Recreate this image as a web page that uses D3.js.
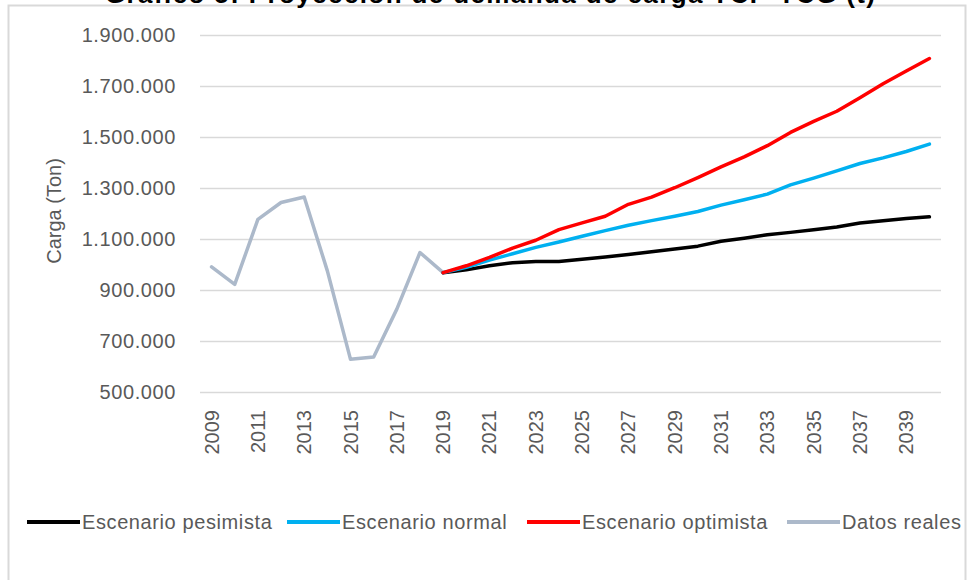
<!DOCTYPE html>
<html>
<head>
<meta charset="utf-8">
<script src="https://cdn.jsdelivr.net/npm/d3@7"></script>
<style>
  body { margin: 0; background: #fff; }
  svg { display: block; font-family: "Liberation Sans", Arial, sans-serif; }
</style>
</head>
<body>
<svg id="canvas" width="970" height="580"></svg>
<script>
const years = [2009, 2010, 2011, 2012, 2013, 2014, 2015, 2016, 2017, 2018, 2019,
  2020, 2021, 2022, 2023, 2024, 2025, 2026, 2027, 2028, 2029, 2030,
  2031, 2032, 2033, 2034, 2035, 2036, 2037, 2038, 2039, 2040];

const realYears = [2009, 2010, 2011, 2012, 2013, 2014, 2015, 2016, 2017, 2018, 2019];
const datosReales = [991000, 922000, 1177000, 1243000, 1265000, 975000, 628000, 637000, 825000, 1047000, 968000];

const projYears = [2019, 2020, 2021, 2022, 2023, 2024, 2025, 2026, 2027, 2028, 2029,
  2030, 2031, 2032, 2033, 2034, 2035, 2036, 2037, 2038, 2039, 2040];
const pesimista = [968000, 979000, 995000, 1007000, 1012000, 1012000, 1021000, 1029000, 1039000, 1050000, 1061000,
  1072000, 1091000, 1103000, 1117000, 1126000, 1136000, 1147000, 1163000, 1172000, 1180000, 1187000];
const normal = [968000, 989000, 1017000, 1042000, 1067000, 1088000, 1111000, 1133000, 1154000, 1172000, 1189000,
  1208000, 1233000, 1254000, 1276000, 1312000, 1339000, 1367000, 1396000, 1418000, 1443000, 1472000];
const optimista = [968000, 995000, 1028000, 1064000, 1095000, 1137000, 1163000, 1189000, 1236000, 1264000, 1301000,
  1341000, 1383000, 1422000, 1466000, 1518000, 1561000, 1601000, 1654000, 1709000, 1759000, 1808000];

const yTicks = [500000, 700000, 900000, 1100000, 1300000, 1500000, 1700000, 1900000];
const xTickYears = [2009, 2011, 2013, 2015, 2017, 2019, 2021, 2023, 2025, 2027, 2029, 2031, 2033, 2035, 2037, 2039];

const seriesNames = ["Escenario pesimista", "Escenario normal", "Escenario optimista", "Datos reales"];
const seriesColors = ["#000000", "#00b0f0", "#ff0000", "#acb9ca"];

const svg = d3.select("#canvas");
const plot = { left: 200, right: 941, top: 35, bottom: 392 };
const labelSize = "20px", labelSpacing = "0.6px", labelColor = "#595959";

// frame of the chart area (cut at the bottom in the reference)
svg.append("rect")
  .attr("x", 8.5).attr("y", 5.5)
  .attr("width", 957).attr("height", 600)
  .style("fill", "none")
  .style("stroke", "#d9d9d9")
  .style("stroke-width", 2);

// title, mostly cut off by the top edge
svg.append("text")
  .attr("x", 105).attr("y", 3)
  .attr("textLength", 770)
  .style("font-size", "26px")
  .style("font-weight", "bold")
  .style("fill", "#000")
  .text("Gráfico 5: Proyección de demanda de carga TCP-TCG (t)");

const x = d3.scaleBand().domain(years).range([plot.left, plot.right]);
const y = d3.scaleLinear().domain([500000, 1900000]).range([plot.bottom, plot.top]);
const cx = (yr) => x(yr) + x.bandwidth() / 2;

const fmt = (v) => d3.format(",")(v).replace(/,/g, ".");

// gridlines + y labels
const yAxis = d3.axisLeft(y).tickValues(yTicks).tickSize(-(plot.right - plot.left)).tickFormat(fmt).tickPadding(24);
const yG = svg.append("g").attr("transform", `translate(${plot.left},0)`).call(yAxis);
yG.select(".domain").remove();
yG.selectAll(".tick line").style("stroke", "#d9d9d9").style("stroke-width", 1.5);
yG.selectAll(".tick text")
  .style("font-size", labelSize)
  .style("letter-spacing", labelSpacing)
  .style("fill", labelColor)
  .style("font-family", "Liberation Sans, Arial, sans-serif");

// x labels, rotated
const xAxis = d3.axisBottom(x).tickValues(xTickYears).tickSize(0).tickPadding(0);
const xG = svg.append("g").attr("transform", `translate(0,${plot.bottom})`).call(xAxis);
xG.select(".domain").remove();
xG.selectAll(".tick text")
  .attr("transform", "rotate(-90)")
  .attr("x", -18).attr("y", 0).attr("dy", "0.35em")
  .style("text-anchor", "end")
  .style("font-size", labelSize)
  .style("fill", labelColor)
  .style("font-family", "Liberation Sans, Arial, sans-serif");

// y axis title
svg.append("text")
  .attr("transform", "translate(61,211) rotate(-90)")
  .style("text-anchor", "middle")
  .style("font-size", labelSize)
  .style("fill", labelColor)
  .text("Carga (Ton)");

const line = d3.line().x((d) => cx(d[0])).y((d) => y(d[1]));

const lines = [
  { data: d3.zip(realYears, datosReales), color: seriesColors[3] },
  { data: d3.zip(projYears, pesimista), color: seriesColors[0] },
  { data: d3.zip(projYears, normal), color: seriesColors[1] },
  { data: d3.zip(projYears, optimista), color: seriesColors[2] },
];

svg.append("g").attr("class", "lines")
  .selectAll("path")
  .data(lines)
  .join("path")
  .attr("d", (d) => line(d.data))
  .style("fill", "none")
  .style("stroke", (d) => d.color)
  .style("stroke-width", 3.5)
  .style("stroke-linejoin", "round")
  .style("stroke-linecap", "round");

// legend
const legendX = [27, 287, 527, 787];
const legend = svg.append("g").attr("class", "legend")
  .selectAll("g")
  .data(seriesNames)
  .join("g")
  .attr("transform", (d, i) => `translate(${legendX[i]},522)`);

legend.append("line")
  .attr("x1", 0).attr("x2", 53)
  .style("stroke", (d, i) => seriesColors[i])
  .style("stroke-width", 4);

legend.append("text")
  .attr("x", 55).attr("dy", "0.35em")
  .style("font-size", labelSize)
  .style("letter-spacing", labelSpacing)
  .style("fill", labelColor)
  .text((d) => d);
</script>
</body>
</html>
